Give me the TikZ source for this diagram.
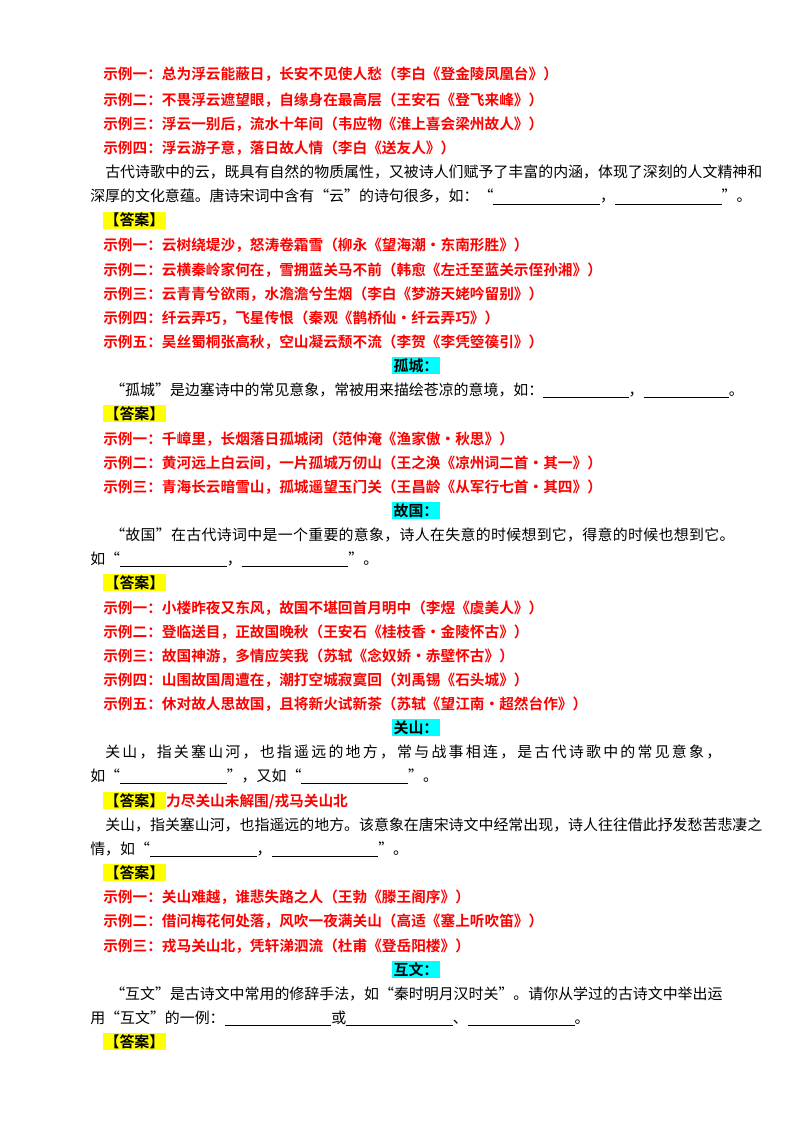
\documentclass[tikz,border=0pt]{standalone}
\usepackage{fontspec}
\setmainfont{Noto Sans CJK SC}
\newfontfamily\cjk{Noto Sans CJK SC}
\newfontfamily\cjkb{Noto Sans CJK SC Bold}
\newfontfamily\cjksp[LetterSpace=15]{Noto Sans CJK SC}
\newfontfamily\cjkspb[LetterSpace=2]{Noto Sans CJK SC}
\definecolor{aqua}{RGB}{0,255,255}
\definecolor{yel}{RGB}{255,255,0}
\newcommand{\blank}[1]{\rule[-2pt]{#1}{0.4pt}}
\begin{document}
\begin{tikzpicture}[x=0.75pt,y=-0.75pt,
  txt/.style={anchor=base west,inner sep=0pt,font=\fontsize{11.2pt}{13pt}\cjk},
  red/.style={txt,text=red,font=\fontsize{11pt}{13pt}\cjkb},
  ans/.style={anchor=base west,inner sep=1pt,fill=yel,font=\fontsize{11.2pt}{13pt}\cjkb},
  head/.style={anchor=base,inner sep=1pt,fill=aqua,font=\fontsize{11.2pt}{13pt}\cjkb}]
\useasboundingbox (0,0) rectangle (800,1134);
\fill[white] (0,0) rectangle (800,1134);
\node[red] (a1) at (103,80) {示例一：总为浮云能蔽日，长安不见使人愁（李白《登金陵凤凰台》）};
\node[red] (a2) at (103,106) {示例二：不畏浮云遮望眼，自缘身在最高层（王安石《登飞来峰》）};
\node[red] (a3) at (103,130) {示例三：浮云一别后，流水十年间（韦应物《淮上喜会梁州故人》）};
\node[red] (a4) at (103,154) {示例四：浮云游子意，落日故人情（李白《送友人》）};
\node[txt] (p1) at (105,178) {古代诗歌中的云，既具有自然的物质属性，又被诗人们赋予了丰富的内涵，体现了深刻的人文精神和};
\node[txt] (p2) at (90,202) {深厚的文化意蕴。唐诗宋词中含有“云”的诗句很多，如：“\blank{80pt}，\blank{80pt}”。};
\node[ans] (d1) at (103,226) {【答案】};
\node[red] (b1) at (103,251) {示例一：云树绕堤沙，怒涛卷霜雪（柳永《望海潮·东南形胜》）};
\node[red] (b2) at (103,275) {示例二：云横秦岭家何在，雪拥蓝关马不前（韩愈《左迁至蓝关示侄孙湘》）};
\node[red] (b3) at (103,299) {示例三：云青青兮欲雨，水澹澹兮生烟（李白《梦游天姥吟留别》）};
\node[red] (b4) at (103,323) {示例四：纤云弄巧，飞星传恨（秦观《鹊桥仙·纤云弄巧》）};
\node[red] (b5) at (103,347) {示例五：吴丝蜀桐张高秋，空山凝云颓不流（李贺《李凭箜篌引》）};
\node[head] (h1) at (416,371) {孤城：};
\node[txt] (p3) at (110,395) {“孤城”是边塞诗中的常见意象，常被用来描绘苍凉的意境，如：\blank{64pt}，\blank{64pt}。};
\node[ans] (d2) at (103,419) {【答案】};
\node[red] (c1) at (103,444) {示例一：千嶂里，长烟落日孤城闭（范仲淹《渔家傲·秋思》）};
\node[red] (c2) at (103,468) {示例二：黄河远上白云间，一片孤城万仞山（王之涣《凉州词二首·其一》）};
\node[red] (c3) at (103,492) {示例三：青海长云暗雪山，孤城遥望玉门关（王昌龄《从军行七首·其四》）};
\node[head] (h2) at (416,516) {故国：};
\node[txt,font=\fontsize{11.2pt}{13pt}\cjkspb] (p4) at (110,540) {“故国”在古代诗词中是一个重要的意象，诗人在失意的时候想到它，得意的时候也想到它。};
\node[txt] (p5) at (90,564) {如“\blank{80pt}，\blank{80pt}”。};
\node[ans] (d3) at (103,588) {【答案】};
\node[red] (e1) at (103,613) {示例一：小楼昨夜又东风，故国不堪回首月明中（李煜《虞美人》）};
\node[red] (e2) at (103,637) {示例二：登临送目，正故国晚秋（王安石《桂枝香·金陵怀古》）};
\node[red] (e3) at (103,661) {示例三：故国神游，多情应笑我（苏轼《念奴娇·赤壁怀古》）};
\node[red] (e4) at (103,685) {示例四：山围故国周遭在，潮打空城寂寞回（刘禹锡《石头城》）};
\node[red] (e5) at (103,709) {示例五：休对故人思故国，且将新火试新茶（苏轼《望江南·超然台作》）};
\node[head] (h3) at (416,733) {关山：};
\node[txt,font=\fontsize{11.2pt}{13pt}\cjksp] (p6) at (105,757) {关山，指关塞山河，也指遥远的地方，常与战事相连，是古代诗歌中的常见意象，};
\node[txt] (p7) at (90,781) {如“\blank{80pt}”，又如“\blank{80pt}”。};
\node[ans] (d4) at (103,806) {【答案】};
\node[red,anchor=base west] (d4r) at (d4.base east) {力尽关山未解围/戎马关山北};
\node[txt] (p8) at (105,830) {关山，指关塞山河，也指遥远的地方。该意象在唐宋诗文中经常出现，诗人往往借此抒发愁苦悲凄之};
\node[txt] (p9) at (90,854) {情，如“\blank{80pt}，\blank{80pt}”。};
\node[ans] (d5) at (103,878) {【答案】};
\node[red] (f1) at (103,902) {示例一：关山难越，谁悲失路之人（王勃《滕王阁序》）};
\node[red] (f2) at (103,926) {示例二：借问梅花何处落，风吹一夜满关山（高适《塞上听吹笛》）};
\node[red] (f3) at (103,951) {示例三：戎马关山北，凭轩涕泗流（杜甫《登岳阳楼》）};
\node[head] (h4) at (416,975) {互文：};
\node[txt] (p10) at (110,999) {“互文”是古诗文中常用的修辞手法，如“秦时明月汉时关”。请你从学过的古诗文中举出运};
\node[txt] (p11) at (90,1023) {用“互文”的一例：\blank{80pt}或\blank{80pt}、\blank{80pt}。};
\node[ans] (d6) at (103,1047) {【答案】};
\end{tikzpicture}
\end{document}
